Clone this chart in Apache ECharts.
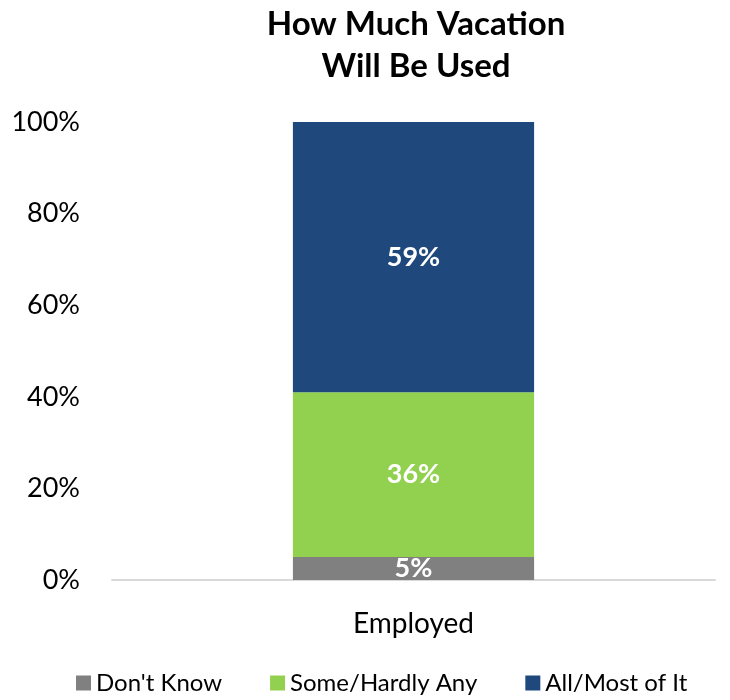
<!DOCTYPE html>
<html>
<head>
<meta charset="utf-8">
<script src="https://cdn.jsdelivr.net/npm/echarts@6/dist/echarts.min.js"></script>
<style>
  html, body { margin: 0; padding: 0; background: #fff; }
  #chart { width: 730px; height: 700px; }
</style>
</head>
<body>
<div id="chart"></div>
<script>
// Share of vacation employees expect to use (stacked to 100%)
const categories = ['Employed'];
const seriesNames = ["Don't Know", 'Some/Hardly Any', 'All/Most of It'];
const dontKnow = [5];
const someHardlyAny = [36];
const allMostOfIt = [59];
const yTicks = [0, 20, 40, 60, 80, 100];

const colors = ['#808080', '#92D050', '#1F487C'];
const FONT = 'Lato, "Open Sans", sans-serif';

const chart = echarts.init(document.getElementById('chart'), null, { renderer: 'canvas' });

function barSeries(name, data, color) {
  return {
    name: name,
    type: 'bar',
    stack: 'total',
    data: data,
    barWidth: '40%',
    itemStyle: { color: color },
    label: {
      show: true,
      position: 'inside',
      formatter: '{c}%',
      color: '#ffffff',
      fontFamily: FONT,
      fontWeight: 'bold',
      fontSize: 27
    },
    emphasis: { disabled: true }
  };
}

chart.setOption({
  animation: false,
  backgroundColor: '#ffffff',
  title: {
    text: 'How Much Vacation\nWill Be Used',
    left: 411,
    top: -2,
    textAlign: 'center',
    textStyle: {
      fontFamily: FONT,
      fontWeight: 'bold',
      fontSize: 33,
      lineHeight: 42,
      color: '#000000'
    }
  },
  legend: {
    data: seriesNames,
    bottom: 0,
    left: 71,
    icon: 'rect',
    itemWidth: 15,
    itemHeight: 15,
    itemGap: 48,
    textStyle: { fontFamily: FONT, fontSize: 24, color: '#000000' }
  },
  grid: { left: 112, right: 15, top: 122, bottom: 120 },
  xAxis: {
    type: 'category',
    data: categories,
    axisLine: { show: true, lineStyle: { color: '#D9D9D9', width: 2 } },
    axisTick: { show: false },
    axisLabel: { fontFamily: FONT, fontSize: 28, color: '#000000', margin: 30 }
  },
  yAxis: {
    type: 'value',
    min: yTicks[0],
    max: yTicks[yTicks.length - 1],
    interval: yTicks[1] - yTicks[0],
    axisLine: { show: false },
    axisTick: { show: false },
    splitLine: { show: false },
    axisLabel: { formatter: '{value}%', fontFamily: FONT, fontSize: 27, color: '#000000', margin: 32 }
  },
  series: [
    barSeries(seriesNames[0], dontKnow, colors[0]),
    barSeries(seriesNames[1], someHardlyAny, colors[1]),
    barSeries(seriesNames[2], allMostOfIt, colors[2])
  ]
});
</script>
</body>
</html>
